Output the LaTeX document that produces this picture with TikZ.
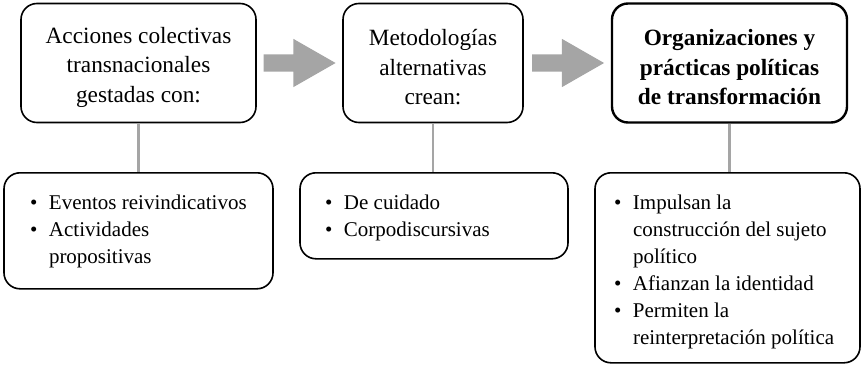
\documentclass[tikz,border=0pt]{standalone}
\usepackage{fontspec}
\setmainfont{Liberation Serif}
\usetikzlibrary{shapes.arrows}
\definecolor{gris}{RGB}{165,165,165}
\newcommand{\vineta}[1]{\par\noindent\hangindent=20pt\hangafter=1\makebox[20pt][l]{\hspace{1pt}\textbullet}#1}
\newcommand{\alto}{\rule{0pt}{25pt}}

\begin{document}
\begin{tikzpicture}[x=1pt,y=1pt,
  caja/.style={draw,line width=1.6pt,rounded corners=16pt,align=center,minimum height=119pt,font=\fontsize{23.3}{29.5}\selectfont},
  lista/.style={draw,line width=1.6pt,rounded corners=16pt,anchor=north,inner ysep=22pt,font=\fontsize{21}{27}\selectfont},
  flecha/.style={single arrow,fill=gris,inner xsep=0pt,inner ysep=8.5pt,minimum height=72pt,single arrow head extend=15.5pt,single arrow tip angle=59.5},
  enlace/.style={gris,line width=2.5pt}]
\useasboundingbox (0,0) rectangle (862,365);
\coordinate (A) at (138.5,302);
\coordinate (B) at (433,302);
\coordinate (C) at (729.5,302);
\node[caja,minimum width=235pt] (acciones) at (A) {\alto Acciones colectivas\\transnacionales\\gestadas con:};
\node[caja,minimum width=180pt] (metodos) at (B) {\alto Metodologías\\alternativas\\crean:};
\node[caja,minimum width=235pt,line width=2.4pt,font=\fontsize{23.3}{29.5}\selectfont\bfseries] (organiza) at (C) {\alto Organizaciones y\\prácticas políticas\\de transformación};
\node[flecha] (f1) at (292,302) {};
\node[flecha] (f2) at (560.5,302) {};
\node[lista,inner xsep=25pt] (eventos) at (138.5,193) {\parbox[c][72pt][t]{219pt}{\raggedright
  \vineta{Eventos reivindicativos}\vineta{Actividades\newline propositivas}}};
\node[lista,inner xsep=24pt] (cuidado) at (434,193) {\parbox[c][42pt][t]{220pt}{\raggedright
  \vineta{De cuidado}\vineta{Corpodiscursivas}}};
\node[lista,inner xsep=18pt] (impulsan) at (727.5,193) {\parbox[c][146pt][t]{229pt}{\raggedright
  \vineta{Impulsan la\newline construcción del sujeto\newline político}\vineta{Afianzan la identidad}\vineta{Permiten la\newline reinterpretación política}}};
\draw[enlace] (acciones.south) -- (acciones.south |- eventos.north);
\draw[enlace] (metodos.south) -- (metodos.south |- cuidado.north);
\draw[enlace] (organiza.south) -- (organiza.south |- impulsan.north);
\end{tikzpicture}
\end{document}
